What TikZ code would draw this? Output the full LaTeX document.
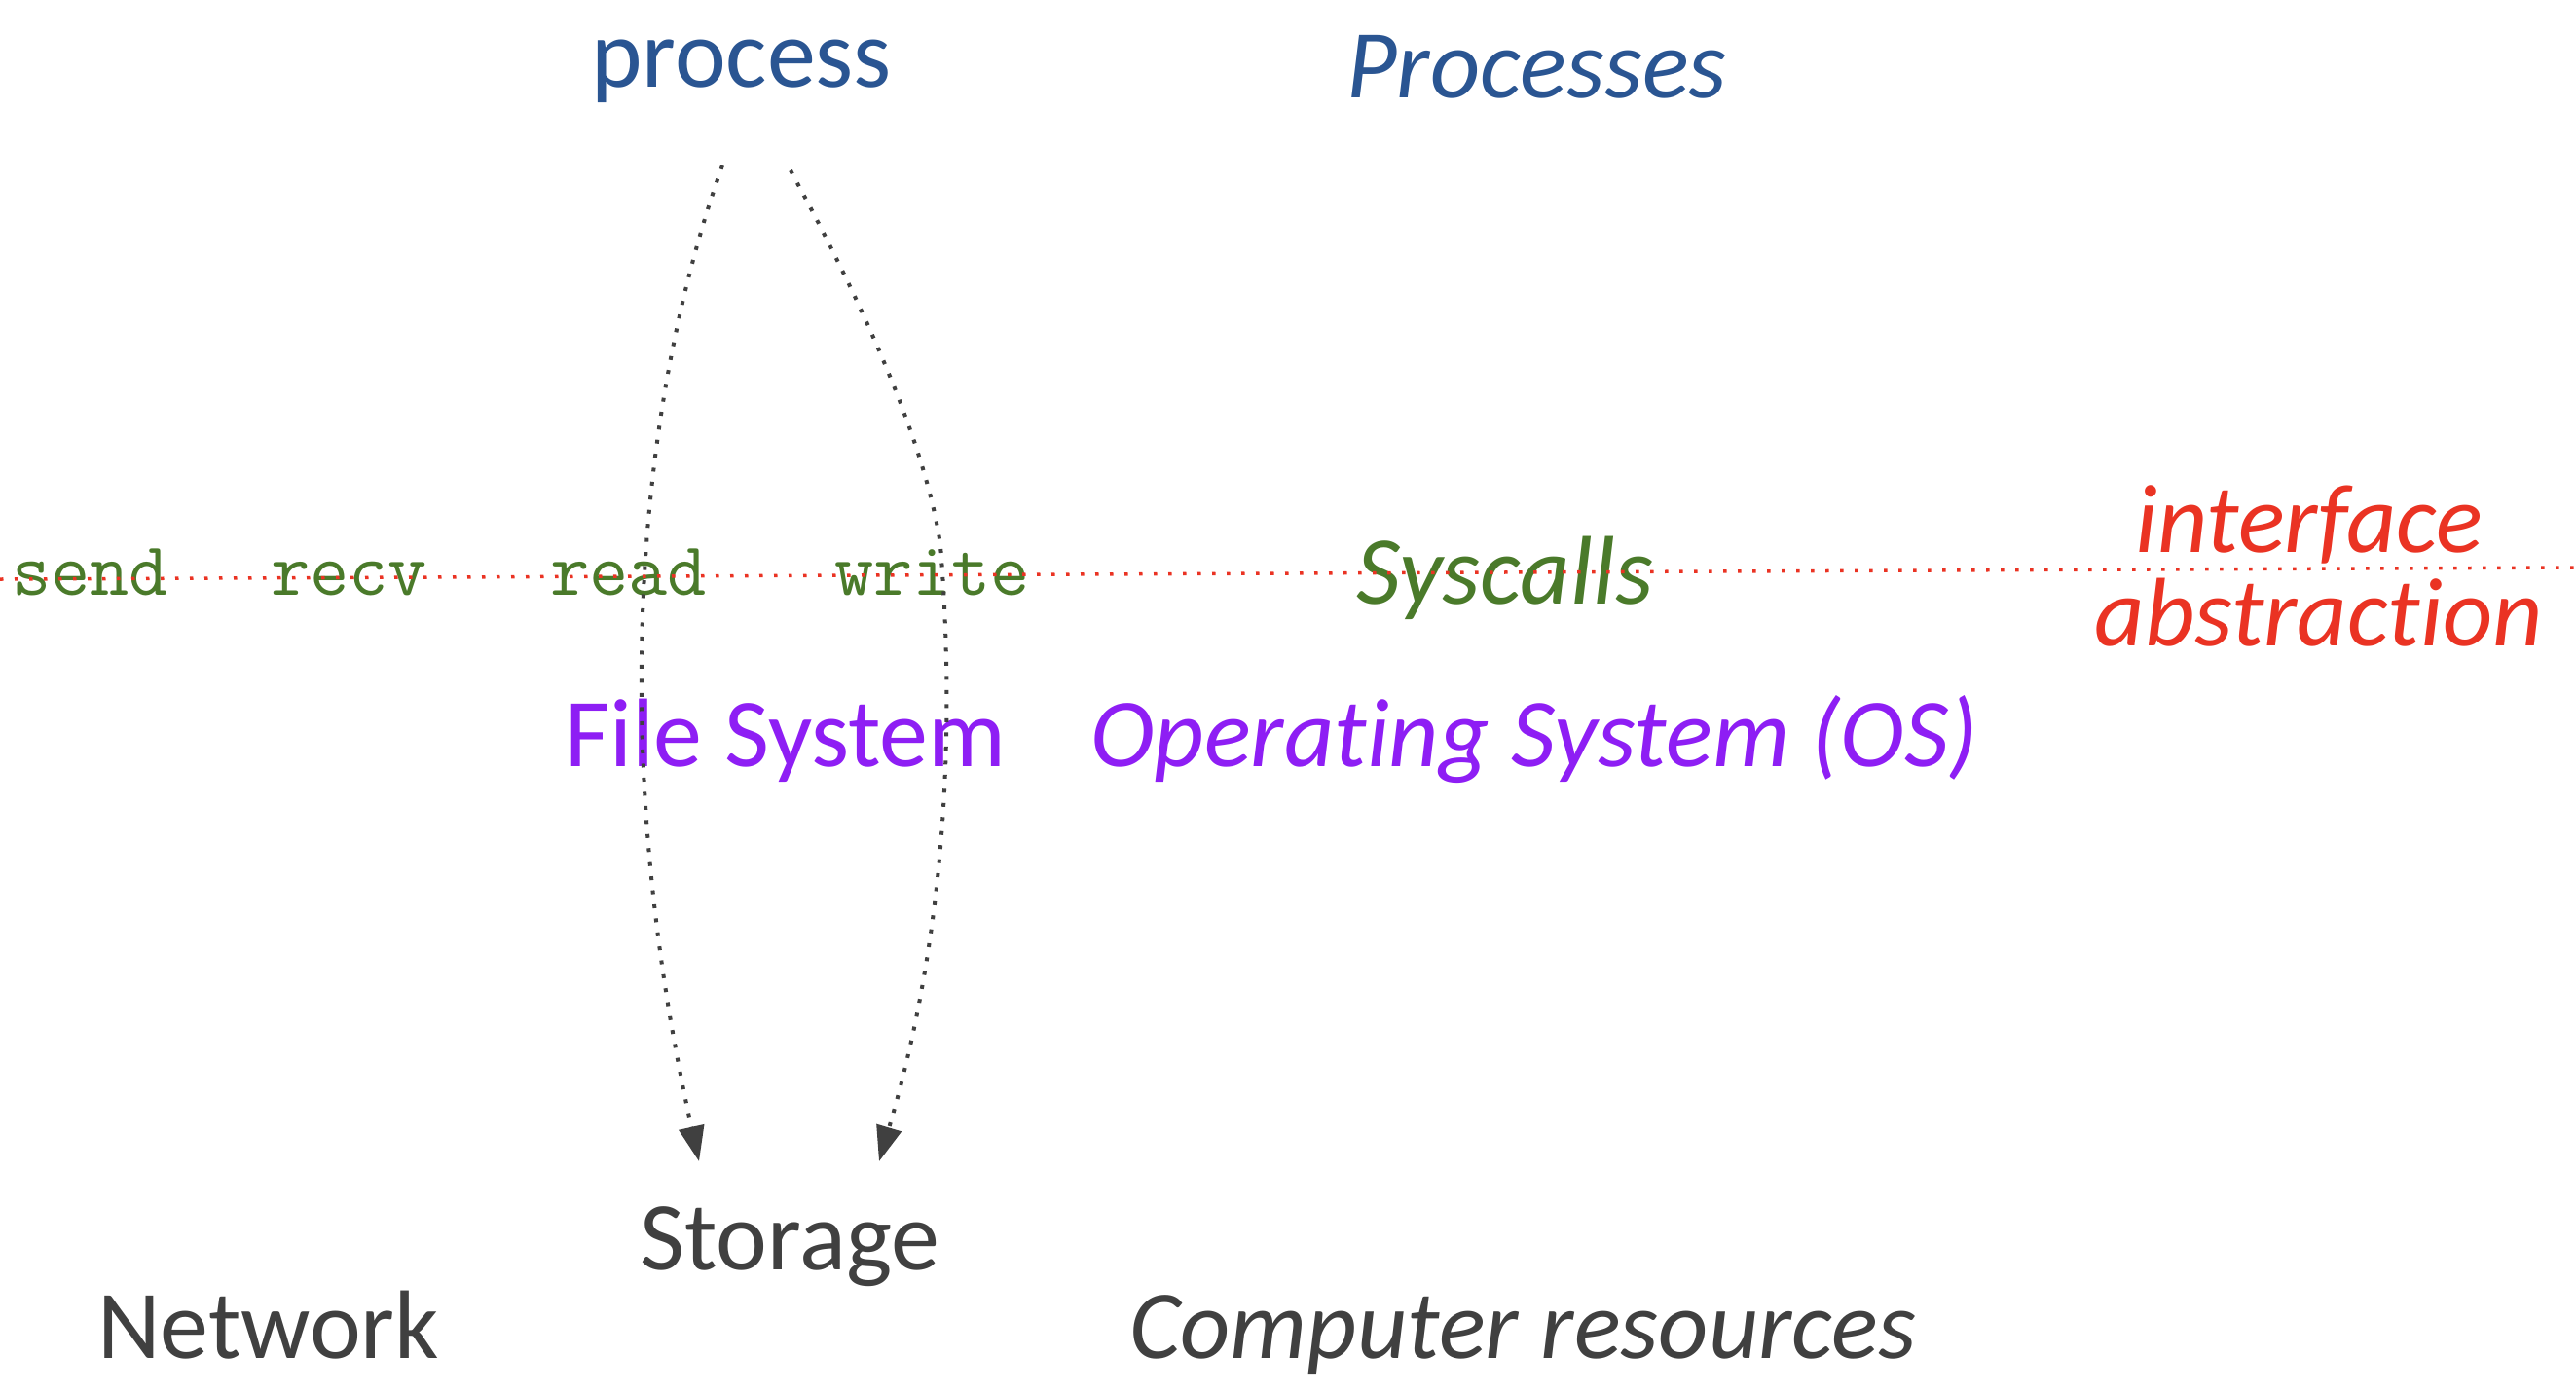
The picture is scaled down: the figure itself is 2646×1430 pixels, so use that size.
\documentclass[tikz,border=0pt]{standalone}
\usepackage{fontspec}
\setmainfont{Carlito}[RawFeature={-liga;-calt;-clig;-dlig}]
\usetikzlibrary{arrows.meta}
\definecolor{pblue}{HTML}{2A5592}
\definecolor{pgreen}{HTML}{4A7A2A}
\definecolor{ppurple}{HTML}{8E1EF4}
\definecolor{pgray}{HTML}{404040}
\definecolor{pred}{HTML}{EA3323}
\begin{document}
\begin{tikzpicture}[x=1pt,y=-1pt,
  lbl/.style={inner sep=0pt,anchor=base west,font=\fontsize{100}{120}\selectfont},
  ital/.style={lbl,font=\fontsize{100}{120}\selectfont\itshape},
  call/.style={inner sep=0pt,anchor=base west,font=\fontsize{78}{88}\selectfont\ttfamily,text=pgreen},
  iface/.style={inner sep=0pt,anchor=base,font=\fontsize{100}{120}\selectfont\itshape,text=pred},
  redline/.style={draw=pred,line width=3.5pt,dash pattern=on 3.5pt off 11.5pt},
  flow/.style={draw=pgray,line width=4pt,dash pattern=on 4pt off 10.5pt,
    -{Triangle[length=36pt,width=26pt]}}]
\useasboundingbox (0,0) rectangle (2646,1430);
% texts
\node[lbl,text=pblue] (proc) at (607,89) {process};
\node[ital,text=pblue] (procs) at (1383,100) {Processes};
\node[call] (send) at (12,611) {send};
\node[call] (recv) at (278,611) {recv};
\node[call] (read) at (565,611) {read};
\node[call] (write) at (857,611) {write};
\node[ital,text=pgreen] (sys) at (1393,620) {Syscalls};
\node[iface] (if1) at (2372,567) {interface};
\node[iface] (if2) at (2382,663) {abstrac\kern0pt tion};
\node[lbl,text=ppurple] (fs) at (580,787) {File System};
\node[ital,text=ppurple] (os) at (1120,787) {Opera\kern0pt ting System (OS)};
\node[lbl,text=pgray] (stor) at (657,1304) {Storage};
\node[lbl,text=pgray] (net) at (100,1395) {Network};
\node[ital,text=pgray] (comp) at (1160,1395) {Computer resources};
% interface line
\coordinate (L) at (0,595);
\coordinate (R) at (2646,583);
\draw[redline] (L) -- (R);
% read / write arrows
\coordinate (p1) at (742,170);
\coordinate (p2) at (812,175);
\coordinate (m2) at (966,560);
\coordinate (s1) at (718,1193);
\coordinate (s2) at (903,1193);
\draw[flow] (p1) .. controls (660,400) and (620,750) .. (s1);
\draw[flow] (p2) .. controls (880,300) and (950,450) .. (m2) .. controls (985,800) and (960,1000) .. (s2);
\end{tikzpicture}
\end{document}
